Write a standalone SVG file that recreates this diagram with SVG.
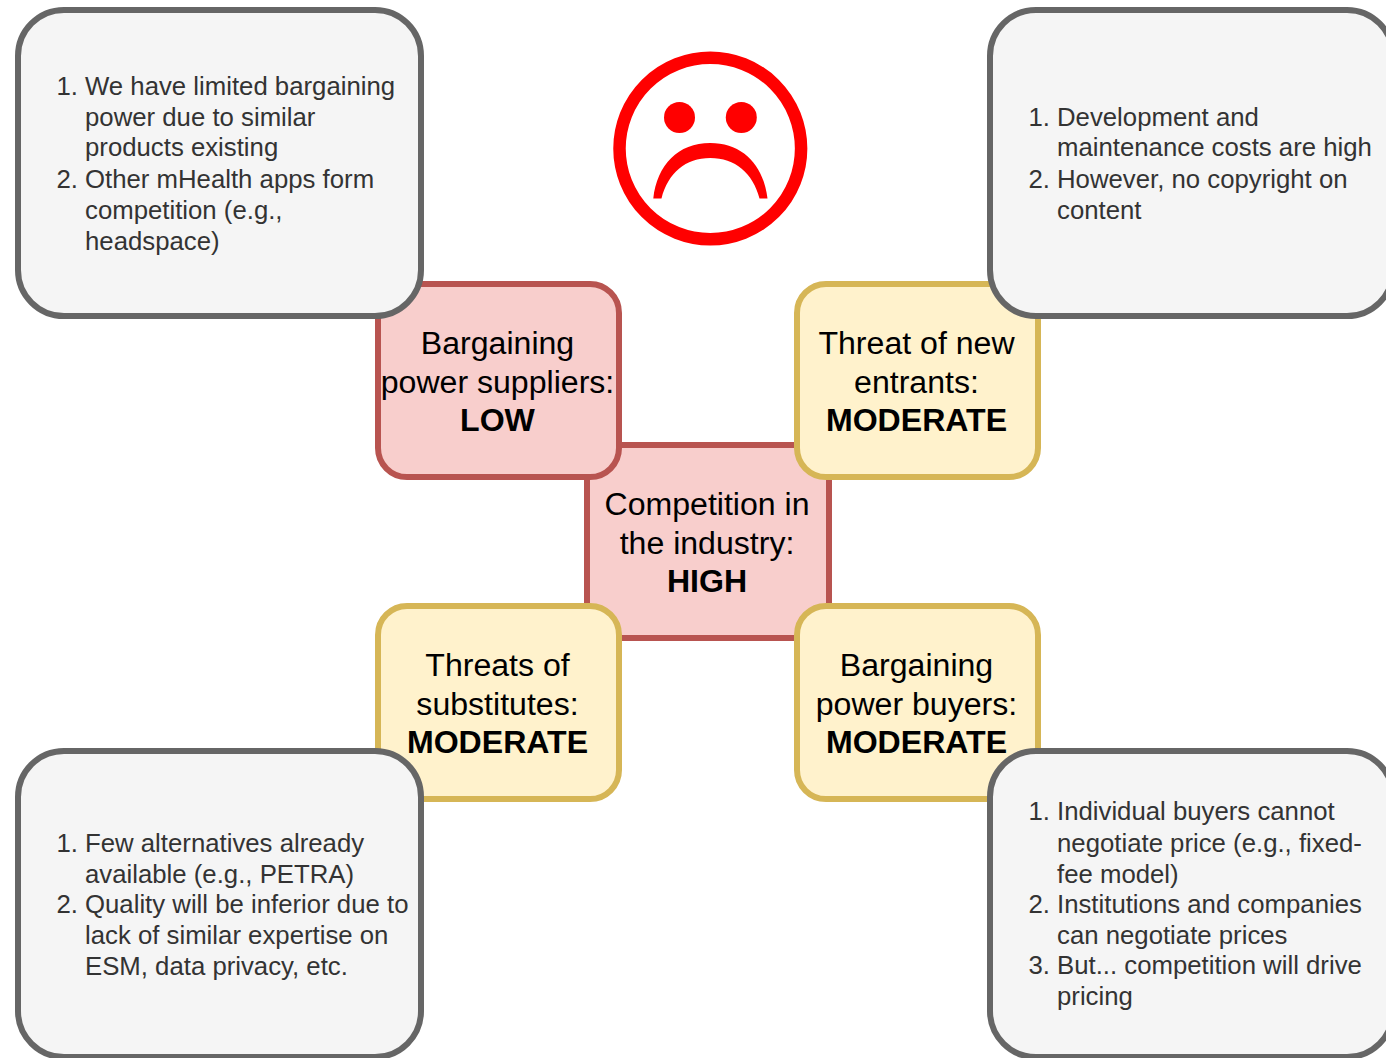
<svg xmlns="http://www.w3.org/2000/svg" width="1386" height="1058" viewBox="0 0 1386 1058">
<style>
text{font-family:"Liberation Sans",Arial,sans-serif}
.main{font-size:32.1px;fill:#000;text-anchor:middle}
.b{font-weight:bold}
.red{fill:#f8cecc;stroke:#b85450;stroke-width:6}
.yel{fill:#fff2cc;stroke:#d6b656;stroke-width:6}
.gry{fill:#f5f5f5;stroke:#666;stroke-width:6}
.note{font-size:25.75px;fill:#333}
.num{text-anchor:end}
.face{fill:#f00}
</style>
<rect width="1386" height="1058" fill="#fff"/>
<g id="connectors"></g>
<g id="competition"><rect class="red" x="587" y="445" width="242" height="193"/>
<text class="main" x="707" y="515">Competition in</text><text class="main" x="707" y="554">the industry:</text><text class="main b" x="707" y="592">HIGH</text></g>
<g id="suppliers"><rect class="red" x="378" y="284" width="241" height="193" rx="29"/>
<text class="main" x="497.500" y="354">Bargaining</text><text class="main" x="497.500" y="393">power suppliers:</text><text class="main b" x="497.500" y="431">LOW</text></g>
<g id="entrants"><rect class="yel" x="797" y="284" width="241" height="193" rx="29"/>
<text class="main" x="916.500" y="354">Threat of new</text><text class="main" x="916.500" y="393">entrants:</text><text class="main b" x="916.500" y="431">MODERATE</text></g>
<g id="substitutes"><rect class="yel" x="378" y="606" width="241" height="193" rx="29"/>
<text class="main" x="497.500" y="676">Threats of</text><text class="main" x="497.500" y="715">substitutes:</text><text class="main b" x="497.500" y="753">MODERATE</text></g>
<g id="buyers"><rect class="yel" x="797" y="606" width="241" height="193" rx="29"/>
<text class="main" x="916.500" y="676">Bargaining</text><text class="main" x="916.500" y="715">power buyers:</text><text class="main b" x="916.500" y="753">MODERATE</text></g>
<g id="note-suppliers"><rect class="gry" x="18" y="10" width="403" height="306" rx="46"/>
<g class="note"><text class="num" x="78" y="95">1.</text><text x="85" y="95">We have limited bargaining</text><text x="85" y="126">power due to similar</text><text x="85" y="156">products existing</text><text class="num" x="78" y="188">2.</text><text x="85" y="188">Other mHealth apps form</text><text x="85" y="219">competition (e.g.,</text><text x="85" y="250">headspace)</text></g></g>
<g id="note-entrants"><rect class="gry" x="990" y="10" width="403" height="306" rx="46"/>
<g class="note"><text class="num" x="1050" y="126">1.</text><text x="1057" y="126">Development and</text><text x="1057" y="156">maintenance costs are high</text><text class="num" x="1050" y="188">2.</text><text x="1057" y="188">However, no copyright on</text><text x="1057" y="219">content</text></g></g>
<g id="note-substitutes"><rect class="gry" x="18" y="751" width="403" height="306" rx="46"/>
<g class="note"><text class="num" x="78" y="852">1.</text><text x="85" y="852">Few alternatives already</text><text x="85" y="883">available (e.g., PETRA)</text><text class="num" x="78" y="913">2.</text><text x="85" y="913">Quality will be inferior due to</text><text x="85" y="944">lack of similar expertise on</text><text x="85" y="975">ESM, data privacy, etc.</text></g></g>
<g id="note-buyers"><rect class="gry" x="990" y="751" width="403" height="306" rx="46"/>
<g class="note"><text class="num" x="1050" y="820">1.</text><text x="1057" y="820">Individual buyers cannot</text><text x="1057" y="852">negotiate price (e.g., fixed-</text><text x="1057" y="883">fee model)</text><text class="num" x="1050" y="913">2.</text><text x="1057" y="913">Institutions and companies</text><text x="1057" y="944">can negotiate prices</text><text class="num" x="1050" y="974">3.</text><text x="1057" y="974">But... competition will drive</text><text x="1057" y="1005">pricing</text></g></g>
<g id="sad-face">
<circle cx="710.300" cy="148.500" r="90.800" fill="none" stroke="#f00" stroke-width="12.500"/>
<circle class="face" cx="679.500" cy="117.500" r="15.500"/><circle class="face" cx="741.300" cy="117.500" r="15.500"/>
<path class="face" d="M653.300 198.500C657 165 678 143 710.300 143C742.500 143 763.500 165 767.500 198.500L759.500 198.500C753 173 735 158 710.300 158C685.500 158 668 173 661.500 198.500Z"/>
</g>
</svg>
